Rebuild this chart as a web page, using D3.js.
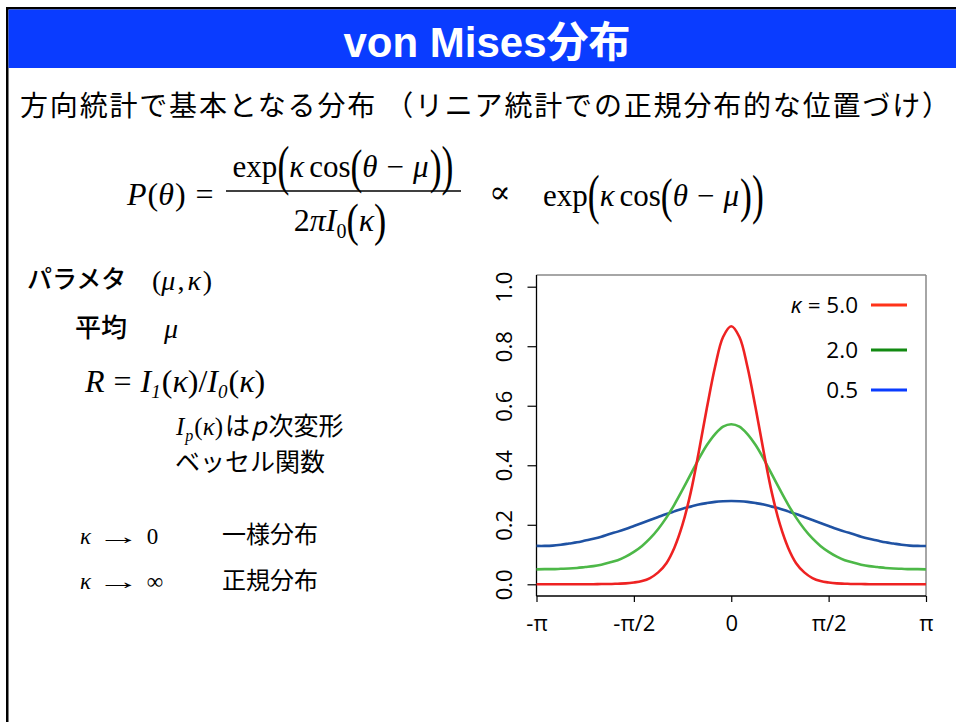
<!DOCTYPE html>
<html><head><meta charset="utf-8">
<script src="https://cdn.jsdelivr.net/npm/d3@7"></script>
<style>
html,body{margin:0;padding:0;background:#fff;}
svg{display:block;}
text{white-space:pre;}
</style></head>
<body>
<svg id="c" width="956" height="722"></svg>
<script>
// ---------- data ----------
const thetaPi = [-1,-0.958,-0.917,-0.875,-0.833,-0.792,-0.75,-0.708,-0.667,-0.625,-0.583,-0.542,-0.5,-0.458,-0.417,-0.375,-0.333,-0.292,-0.25,-0.208,-0.167,-0.125,-0.083,-0.042,0,0.042,0.083,0.125,0.167,0.208,0.25,0.292,0.333,0.375,0.417,0.458,0.5,0.542,0.583,0.625,0.667,0.708,0.75,0.792,0.833,0.875,0.917,0.958,1];
const kappa50 = [0,0,0,0,0,0,0,0,0.001,0.001,0.002,0.003,0.006,0.011,0.021,0.040,0.071,0.123,0.201,0.309,0.444,0.593,0.731,0.831,0.867,0.831,0.731,0.593,0.444,0.309,0.201,0.123,0.071,0.040,0.021,0.011,0.006,0.003,0.002,0.001,0.001,0,0,0,0,0,0,0,0];
const kappa20 = [0.050,0.051,0.051,0.052,0.053,0.055,0.058,0.061,0.066,0.073,0.081,0.093,0.109,0.129,0.154,0.186,0.224,0.268,0.318,0.370,0.421,0.468,0.505,0.530,0.538,0.530,0.505,0.468,0.421,0.370,0.318,0.268,0.224,0.186,0.154,0.129,0.109,0.093,0.081,0.073,0.066,0.061,0.058,0.055,0.053,0.052,0.051,0.051,0.050];
const kappa05 = [0.129,0.129,0.130,0.133,0.137,0.141,0.147,0.153,0.160,0.169,0.177,0.186,0.196,0.206,0.216,0.226,0.236,0.245,0.254,0.261,0.268,0.273,0.277,0.279,0.280,0.279,0.277,0.273,0.268,0.261,0.254,0.245,0.236,0.226,0.216,0.206,0.196,0.186,0.177,0.169,0.160,0.153,0.147,0.141,0.137,0.133,0.130,0.129,0.129];
const seriesNames = ["κ = 5.0","2.0","0.5"];
const xTickValues = [-1,-0.5,0,0.5,1];
const xTickLabels = ["-π","-π/2","0","π/2","π"];
const yTickValues = [0,0.2,0.4,0.6,0.8,1.0];

const curveColors = ["#ee2222","#4db848","#1f52a3"];
const legendColors = ["#ff3319","#128a12","#0a3cff"];

// ---------- page ----------
const svg = d3.select("#c");
svg.append("rect").attr("width",956).attr("height",722).attr("fill","#fff");
svg.append("rect").attr("x",6).attr("y",7).attr("width",950).attr("height",2.5).attr("fill","#000");
svg.append("rect").attr("x",6).attr("y",7).attr("width",2.5).attr("height",715).attr("fill","#000");
svg.append("rect").attr("x",8.5).attr("y",9.5).attr("width",948).attr("height",58.5).attr("fill","#0a3cff");

const SANS = "'Liberation Sans','Noto Sans CJK JP',sans-serif";
const JP = "'Noto Sans CJK JP',sans-serif";
const SERIF = "'Liberation Serif','DejaVu Serif',serif";

svg.append("text").attr("x",487).attr("y",57).attr("text-anchor","middle")
  .attr("font-family",SANS).attr("font-weight","bold").attr("font-size",42)
  .attr("fill","#fff").text("von Mises分布");

svg.append("text").attr("x",20).attr("y",116)
  .attr("font-family",JP).attr("font-size",28).attr("fill","#000")
  .attr("textLength",930).attr("lengthAdjust","spacing")
  .text("方向統計で基本となる分布 （リニア統計での正規分布的な位置づけ）");

// ---------- math helper ----------
function mathRow(x, y, pieces, opts={}) {
  const g = svg.append("g");
  let cx = 0;
  pieces.forEach(p => {
    if (p.gap) { cx += p.gap; return; }
    const fs = p.f || opts.f || 28;
    const t = g.append("text")
      .attr("font-family", p.sans ? JP : SERIF)
      .attr("font-size", fs)
      .attr("font-style", p.i ? "italic" : "normal")
      .attr("fill","#000").text(p.t);
    let w = t.node().getComputedTextLength();
    if (p.big || p.sx) {
      const sy = p.big || 1, sx = p.sx || 1.15, dy = p.bdy || 0;
      t.attr("transform", `translate(${cx},${dy}) scale(${sx},${sy})`);
      w *= sx;
    } else {
      t.attr("x", cx).attr("y", p.dy || 0);
    }
    cx += w + (p.after || 0);
  });
  const ox = opts.center ? x - cx/2 : x;
  g.attr("transform", `translate(${ox},${y})`);
  return cx;
}

// P(theta) =
mathRow(127, 205, [
  {t:"P", i:1},{gap:1},{t:"("},{t:"θ", i:1},{gap:1},{t:")"},{gap:10},{t:"="}
], {f:32});
// numerator
const expPieces = [
  {t:"exp"},{t:"(", big:1.75, bdy:7},{t:"κ", i:1},{gap:5},{t:"cos"},{t:"(", big:1.55, bdy:6},
  {t:"θ", i:1},{gap:9},{t:"−"},{gap:9},{t:"μ", i:1},{gap:1},{t:")", big:1.55, bdy:6},{t:")", big:1.75, bdy:7}
];
mathRow(343, 177, expPieces, {f:31, center:true});
svg.append("line").attr("x1",226).attr("x2",461).attr("y1",191).attr("y2",191)
  .attr("stroke","#000").attr("stroke-width",1.5);
// denominator
mathRow(340, 231, [
  {t:"2"},{t:"π", i:1},{t:"I", i:1},{t:"0", f:20, dy:7},{t:"(", big:1.45, bdy:5},{t:"κ", i:1},{t:")", big:1.45, bdy:5}
], {f:32, center:true});
// proportional
svg.append("text").attr("x",489).attr("y",203).attr("font-family",SERIF).attr("font-size",32).text("∝");
mathRow(543, 206, expPieces, {f:31});

// left column
svg.append("text").attr("x",27).attr("y",288).attr("font-family",JP).attr("font-size",25).attr("font-weight",500).text("パラメタ");
mathRow(152, 290, [{t:"("},{t:"μ", i:1},{gap:2},{t:","},{gap:3},{t:"κ", i:1},{gap:2},{t:")"}], {f:28});
svg.append("text").attr("x",75).attr("y",337).attr("font-family",JP).attr("font-size",26).attr("font-weight",500).text("平均");
mathRow(164, 338, [{t:"μ", i:1}], {f:28});
mathRow(85, 392, [
  {t:"R", i:1},{gap:9},{t:"="},{gap:9},{t:"I", i:1},{t:"1", i:1, f:19, dy:6},{gap:1},{t:"("},{t:"κ", i:1},{t:")"},{t:"/"},
  {t:"I", i:1},{t:"0", i:1, f:19, dy:6},{gap:1},{t:"("},{t:"κ", i:1},{t:")"}
], {f:32});

// I_p(kappa) は p 次変形 — single text with tspans
const ip = svg.append("text").attr("x",176).attr("y",435).attr("font-size",25).attr("fill","#000");
ip.append("tspan").attr("font-family",SERIF).attr("font-style","italic").text("I");
ip.append("tspan").attr("font-family",SERIF).attr("font-style","italic").attr("font-size",16).attr("dx",1).attr("dy",6).text("p");
ip.append("tspan").attr("font-family",SERIF).attr("dx",1).attr("dy",-6).text("(");
ip.append("tspan").attr("font-family",SERIF).attr("font-style","italic").text("κ");
ip.append("tspan").attr("font-family",SERIF).text(")");
ip.append("tspan").attr("font-family",JP).attr("dx",2).text("は");
ip.append("tspan").attr("font-family",JP).attr("font-style","italic").attr("dx",1).text("p");
ip.append("tspan").attr("font-family",JP).attr("dx",2).text("次変形");
svg.append("text").attr("x",175).attr("y",471).attr("font-family",JP).attr("font-size",25).text("ベッセル関数");

mathRow(80, 544, [{t:"κ", i:1},{gap:6},{t:"→", sx:1.9, bdy:0, f:23},{gap:6},{t:"0"}], {f:23});
mathRow(80, 589, [{t:"κ", i:1},{gap:6},{t:"→", sx:1.9, bdy:0, f:23},{gap:6},{t:"∞"}], {f:23});
svg.append("text").attr("x",222).attr("y",543).attr("font-family",JP).attr("font-size",24).text("一様分布");
svg.append("text").attr("x",222).attr("y",589).attr("font-family",JP).attr("font-size",24).text("正規分布");

// ---------- chart ----------
const L = 536.5, R = 926, T = 275, B = 596;
const x = d3.scaleLinear().domain([-1,1]).range([L, R]);
const y = d3.scaleLinear().domain([0,1]).range([584.3, 286.7]);
const chart = svg.append("g");

const yAxis = chart.append("g").attr("transform",`translate(${L},0)`)
  .call(d3.axisLeft(y).tickValues(yTickValues).tickFormat(d3.format(".1f")).tickSize(9).tickSizeOuter(0));
yAxis.select(".domain").remove();
yAxis.selectAll(".tick line").attr("stroke","#000").attr("stroke-width",1.2);
yAxis.selectAll(".tick text").attr("transform","rotate(-90)").attr("x",0).attr("y",-32)
  .attr("dy","0.35em").attr("text-anchor","middle")
  .attr("font-family","'Open Sans',sans-serif").attr("font-size",22).attr("fill","#000");

const xAxis = chart.append("g").attr("transform",`translate(0,${B})`)
  .call(d3.axisBottom(x).tickValues(xTickValues).tickFormat((d,i)=>xTickLabels[i]).tickSize(6).tickSizeOuter(0));
xAxis.select(".domain").remove();
xAxis.selectAll(".tick line").attr("stroke","#000").attr("stroke-width",1.2);
xAxis.selectAll(".tick text").attr("y",19).attr("dy","0.71em")
  .attr("font-family","'Open Sans',sans-serif").attr("font-size",22).attr("fill","#000");

// box
chart.append("line").attr("x1",L).attr("x2",R).attr("y1",T).attr("y2",T).attr("stroke","#888").attr("stroke-width",1.5);
chart.append("line").attr("x1",R).attr("x2",R).attr("y1",T).attr("y2",B).attr("stroke","#888").attr("stroke-width",1.5);
chart.append("line").attr("x1",L).attr("x2",L).attr("y1",T).attr("y2",B).attr("stroke","#000").attr("stroke-width",1.3);
chart.append("line").attr("x1",L).attr("x2",R).attr("y1",B).attr("y2",B).attr("stroke","#000").attr("stroke-width",1.3);

const series = [kappa50, kappa20, kappa05];
const line = d3.line().x((d,i)=>x(thetaPi[i])).y(d=>y(d)).curve(d3.curveCatmullRom);
[2,1,0].forEach(s => {
  chart.append("path").attr("d", line(series[s])).attr("fill","none")
    .attr("stroke", curveColors[s]).attr("stroke-width",2.6).attr("stroke-linejoin","round");
});

// legend
const legY = [305, 350, 390];
seriesNames.forEach((n,i) => {
  chart.append("line").attr("x1",871).attr("x2",907).attr("y1",legY[i]).attr("y2",legY[i])
    .attr("stroke",legendColors[i]).attr("stroke-width",3);
  const t = chart.append("text").attr("x",858).attr("y",legY[i]+8).attr("text-anchor","end")
    .attr("font-family","'Open Sans',sans-serif").attr("font-size",22.5).attr("fill","#000");
  if (i===0) { t.append("tspan").attr("font-style","italic").text("κ"); t.append("tspan").text(" = 5.0"); }
  else t.text(n);
});
</script>
</body></html>
